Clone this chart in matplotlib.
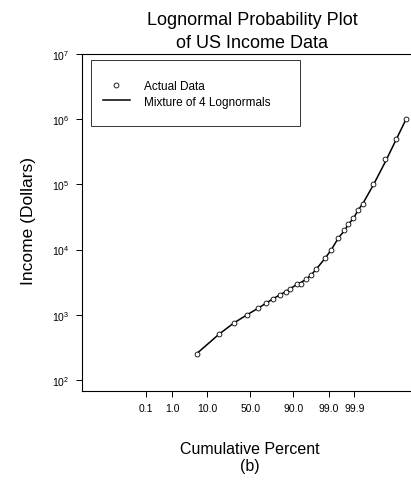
import numpy as np
import matplotlib.pyplot as plt
from matplotlib.patches import Rectangle
from statistics import NormalDist

plt.rcParams['font.family'] = ['Liberation Sans', 'DejaVu Sans']
plt.rcParams['mathtext.fontset'] = 'custom'
plt.rcParams['mathtext.rm'] = 'Liberation Sans'

# Cumulative percent of households and income at that percent
percent = np.array([
    5.5, 17.6, 31.6, 46.5, 59.0, 68.0, 75.0, 80.7, 85.2, 88.3,
    91.5, 93.2, 95.2, 96.5, 97.4, 98.7, 99.2, 99.55, 99.74, 99.82,
    99.89, 99.93, 99.957, 99.987, 99.997, 99.9992, 99.99981,
])
income = np.array([
    250, 500, 750, 1000, 1250, 1500, 1750, 2000, 2250, 2500,
    3000, 3000, 3500, 4000, 5000, 7500, 10000, 15000, 20000, 25000,
    30000, 40000, 50000, 100000, 250000, 500000, 1000000,
])
# Fitted mixture of 4 lognormals at the same percents
mixture = np.array([
    250, 500, 750, 1000, 1250, 1500, 1750, 2000, 2250, 2500,
    2900, 3100, 3500, 4100, 4900, 7400, 10000, 15000, 19500, 24500,
    30000, 40000, 50000, 98000, 225000, 470000, 1000000,
])

tick_pct = [0.1, 1.0, 10.0, 50.0, 90.0, 99.0, 99.9]
tick_lbl = ['0.1', '1.0', '10.0', '50.0', '90.0', '99.0', '99.9']

nd = NormalDist()
def zscore(p):
    return np.array([nd.inv_cdf(v / 100.0) for v in p])

fig = plt.figure(figsize=(4.11, 4.81), dpi=100)
ax = fig.add_axes([82 / 411, 1 - 392 / 481, 336.7 / 411, 336.7 / 481])

x = zscore(percent)
ax.plot(x, mixture, '-', color='black', lw=1.1, label='Mixture of 4 Lognormals')
ax.plot(x, income, 'o', mfc='white', mec='black', ms=3.5, mew=0.6,
        label='Actual Data')

ax.set_yscale('log')
ax.set_ylim(10 ** 1.826, 1e7)
ax.set_xlim(-5, 5)
ax.minorticks_off()
ax.set_yticks([1e2, 1e3, 1e4, 1e5, 1e6, 1e7])
ax.set_yticklabels([r'$10^{%d}$' % k for k in range(2, 8)])
ax.set_xticks(zscore(tick_pct))
ax.set_xticklabels(tick_lbl)
ax.tick_params(axis='both', labelsize=7.5, length=4, width=0.7, direction='out')
ax.tick_params(axis='y', pad=5)
ax.tick_params(axis='x', pad=5)

for s in ['left', 'top', 'bottom']:
    ax.spines[s].set_linewidth(0.8)
ax.spines['right'].set_visible(False)

# legend box
ax.add_patch(Rectangle(((91 - 82) / 336.7, (392 - 127) / 336.7), 209 / 336.7, 66 / 336.7,
                       transform=ax.transAxes, fill=False, lw=0.7, ec='#333333'))
h, l = ax.get_legend_handles_labels()
ax.legend(h[::-1], l[::-1], loc='upper left', bbox_to_anchor=(0.03, 0.955),
          frameon=False, fontsize=8.5, handlelength=2.3, handletextpad=1.2,
          labelspacing=0.3, markerscale=1.0)

fig.text(252 / 411, 1 - 12 / 481, 'Lognormal Probability Plot\nof US Income Data',
         ha='center', va='top', fontsize=13, linespacing=1.45)
fig.text(28 / 411, 1 - 221 / 481, 'Income (Dollars)', rotation=90,
         ha='center', va='center', fontsize=12.5)
fig.text(250 / 411, 1 - 450 / 481, 'Cumulative Percent', ha='center', va='center',
         fontsize=11.5)
fig.text(250 / 411, 1 - 467 / 481, '(b)', ha='center', va='center', fontsize=11.5)

fig.savefig('out.png', dpi=100)
